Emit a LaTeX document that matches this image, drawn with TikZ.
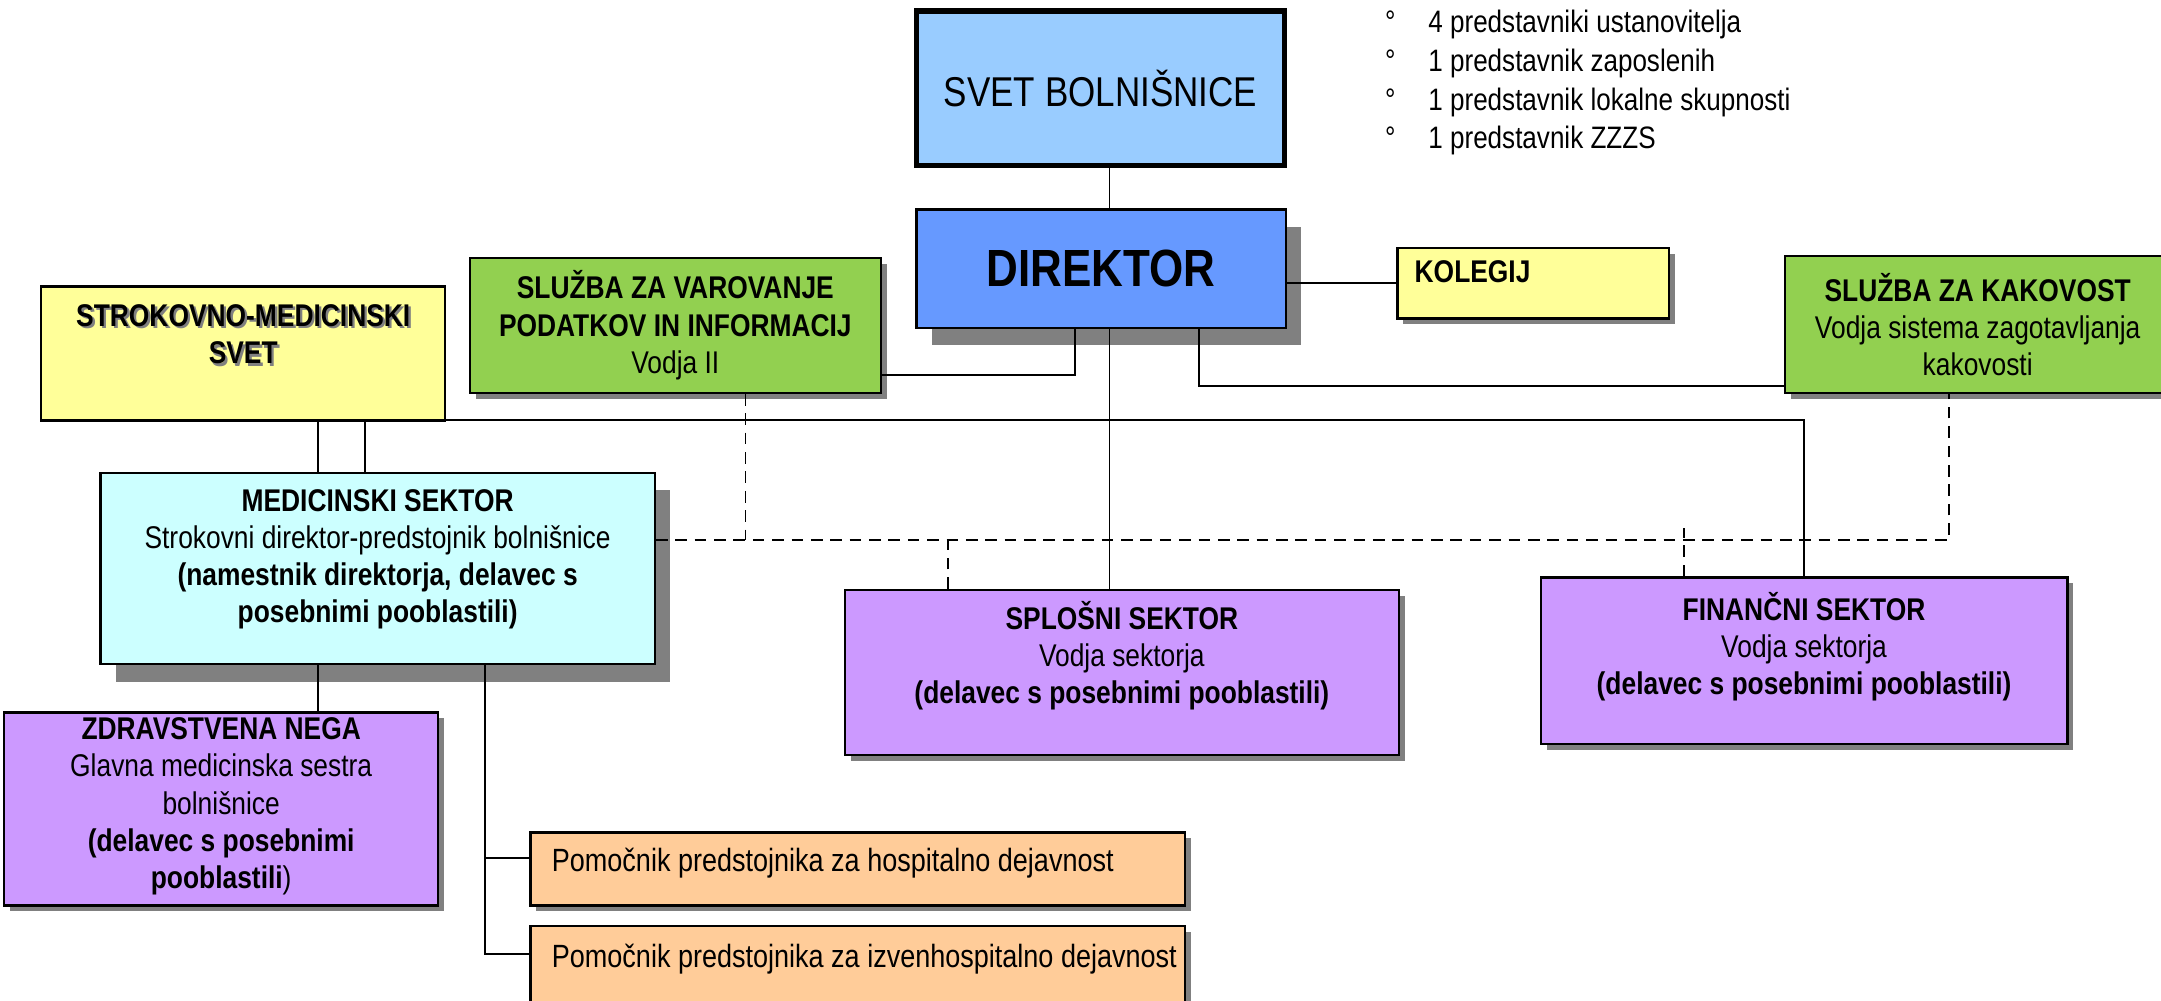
\documentclass[tikz,border=0pt]{standalone}
\usepackage{fontspec}
\setmainfont{Liberation Sans}[FakeStretch=0.84]
\usetikzlibrary{shadows,calc}

\definecolor{svetblue}{HTML}{99CCFF}
\definecolor{dirblue}{HTML}{6699FF}
\definecolor{paleyellow}{HTML}{FFFF99}
\definecolor{leafgreen}{HTML}{92D050}
\definecolor{palecyan}{HTML}{CCFFFF}
\definecolor{lilac}{HTML}{CC99FF}
\definecolor{peach}{HTML}{FFCC99}
\definecolor{shadowgray}{HTML}{808080}

% push the text of a box upwards
\newcommand{\dn}[1]{\rule[-#1]{0pt}{#1}}
% text with a grey shadow
\newcommand{\shtext}[1]{\makebox[0pt][l]{\hspace{1.2pt}\raisebox{-1.2pt}{\color{shadowgray}#1}}#1}

\tikzset{
  box/.style={draw=black, line width=1.2pt, align=center, inner sep=0pt,
    font=\fontsize{16.2}{19.2}\selectfont},
  smallshadow/.style={drop shadow={shadow xshift=3pt, shadow yshift=-3pt,
    fill=shadowgray, opacity=1}},
  bigshadow/.style={drop shadow={shadow xshift=8pt, shadow yshift=-9pt,
    fill=shadowgray, opacity=1}},
  helper/.style={box, smallshadow, fill=peach, minimum width=11.875cm,
    font=\fontsize{16.6}{20}\selectfont},
  link/.style={draw=black, line width=0.9pt},
  dashlink/.style={draw=black, line width=0.9pt, dash pattern=on 6pt off 4pt}
}

\begin{document}
\begin{tikzpicture}[x=0.025cm, y=-0.025cm]
  \useasboundingbox (0,0) rectangle (1568,726);

  % top
  \node[box, line width=3pt, fill=svetblue, minimum width=6.675cm, minimum height=2.8cm]
    (svet) at (798.5,64) {\fontsize{21.5}{25}\selectfont SVET BOLNIŠNICE};
  \node[anchor=west, align=left, font=\fontsize{16}{20}\selectfont] (clani) at (1000,60)
    {°\hspace{17pt}4 predstavniki ustanovitelja\\
     °\hspace{17pt}1 predstavnik zaposlenih\\
     °\hspace{17pt}1 predstavnik lokalne skupnosti\\
     °\hspace{17pt}1 predstavnik ZZZS};
  \node[box, bigshadow, fill=dirblue, minimum width=6.7cm, minimum height=2.15cm]
    (direktor) at (799,195) {\fontsize{27}{32}\selectfont\bfseries DIREKTOR};
  \node[box, smallshadow, fill=paleyellow, minimum width=4.925cm, minimum height=1.275cm]
    (kolegij) at (1112.5,205.5) {\makebox[4.3cm][l]{\textbf{KOLEGIJ}}\dn{12pt}};

  % services
  \node[box, smallshadow, fill=leafgreen, minimum width=7.45cm, minimum height=2.45cm]
    (varovanje) at (490,236)
    {\textbf{SLUŽBA ZA VAROVANJE}\\\textbf{PODATKOV IN INFORMACIJ}\\Vodja II};
  \node[box, fill=paleyellow, minimum width=7.325cm, minimum height=2.425cm]
    (strokovno) at (176.5,256.5)
    {\shtext{\textbf{STROKOVNO-MEDICINSKI}}\\\shtext{\textbf{SVET}}\dn{20pt}};
  \node[box, smallshadow, fill=leafgreen, minimum width=7cm, minimum height=2.475cm]
    (kakovost) at (1435,235.5)
    {\textbf{SLUŽBA ZA KAKOVOST}\\Vodja sistema zagotavljanja\\kakovosti};

  % sectors
  \node[box, bigshadow, fill=palecyan, minimum width=10.05cm, minimum height=3.475cm]
    (medicinski) at (274,412.5)
    {\textbf{MEDICINSKI SEKTOR}\\Strokovni direktor-predstojnik bolnišnice\\
     \textbf{(namestnik direktorja, delavec s}\\\textbf{posebnimi pooblastili)}\dn{13pt}};
  \node[box, smallshadow, fill=lilac, minimum width=10.05cm, minimum height=3cm]
    (splosni) at (814,488)
    {\textbf{SPLOŠNI SEKTOR}\\Vodja sektorja\\\textbf{(delavec s posebnimi pooblastili)}\dn{21pt}};
  \node[box, smallshadow, fill=lilac, minimum width=9.55cm, minimum height=3.025cm]
    (financni) at (1309,479.5)
    {\textbf{FINANČNI SEKTOR}\\Vodja sektorja\\\textbf{(delavec s posebnimi pooblastili)}\dn{18pt}};
  \node[box, smallshadow, fill=lilac, minimum width=7.875cm, minimum height=3.5cm]
    (zdravstvena) at (160.5,587)
    {\textbf{ZDRAVSTVENA NEGA}\\Glavna medicinska sestra\\bolnišnice\\
     \textbf{(delavec s posebnimi}\\\textbf{pooblastili})\dn{6pt}};
  \node[helper, minimum height=1.325cm] (pomocnik1) at (622.5,630.5)
    {\makebox[11.1cm][l]{Pomočnik predstojnika za hospitalno dejavnost}\dn{9pt}};
  \node[helper, minimum height=1.4cm] (pomocnik2) at (622.5,700)
    {\makebox[11.1cm][l]{Pomočnik predstojnika za izvenhospitalno dejavnost}\dn{9pt}};

  % solid lines
  \draw[link] (svet.south -| 805,0) -- (direktor.north -| 805,0);
  \draw[link] (direktor.east |- kolegij.west) -- (kolegij.west);
  \draw[link] (direktor.south -| 780,0) |- (varovanje.east |- 0,272);
  \draw[link] (direktor.south -| 870,0) |- (kakovost.west |- 0,280);
  \draw[link] (direktor.south -| 805,0) -- (splosni.north -| 805,0);
  \draw[link] (medicinski.north -| 265,0) |- (financni.north |- 0,305) -- (financni.north);
  \draw[link] (strokovno.south -| 231,0) -- (medicinski.north -| 231,0);
  \draw[link] (medicinski.south -| 231,0) -- (zdravstvena.north -| 231,0);
  \draw[link] (medicinski.south -| 352,0) |- ($(pomocnik1.west)+(0,-8)$);
  \draw[link] (medicinski.south -| 352,0) |- ($(pomocnik2.west)+(0,-8)$);

  % dashed lines
  \draw[dashlink] (medicinski.east |- 0,392) -| (kakovost.south -| 1414,0);
  \draw[dashlink] (varovanje.south -| 541,0) -- (541,392);
  \draw[dashlink] (splosni.north -| 688,0) -- (688,392);
  \draw[dashlink] (financni.north -| 1222,0) -- (1222,383);
\end{tikzpicture}
\end{document}
